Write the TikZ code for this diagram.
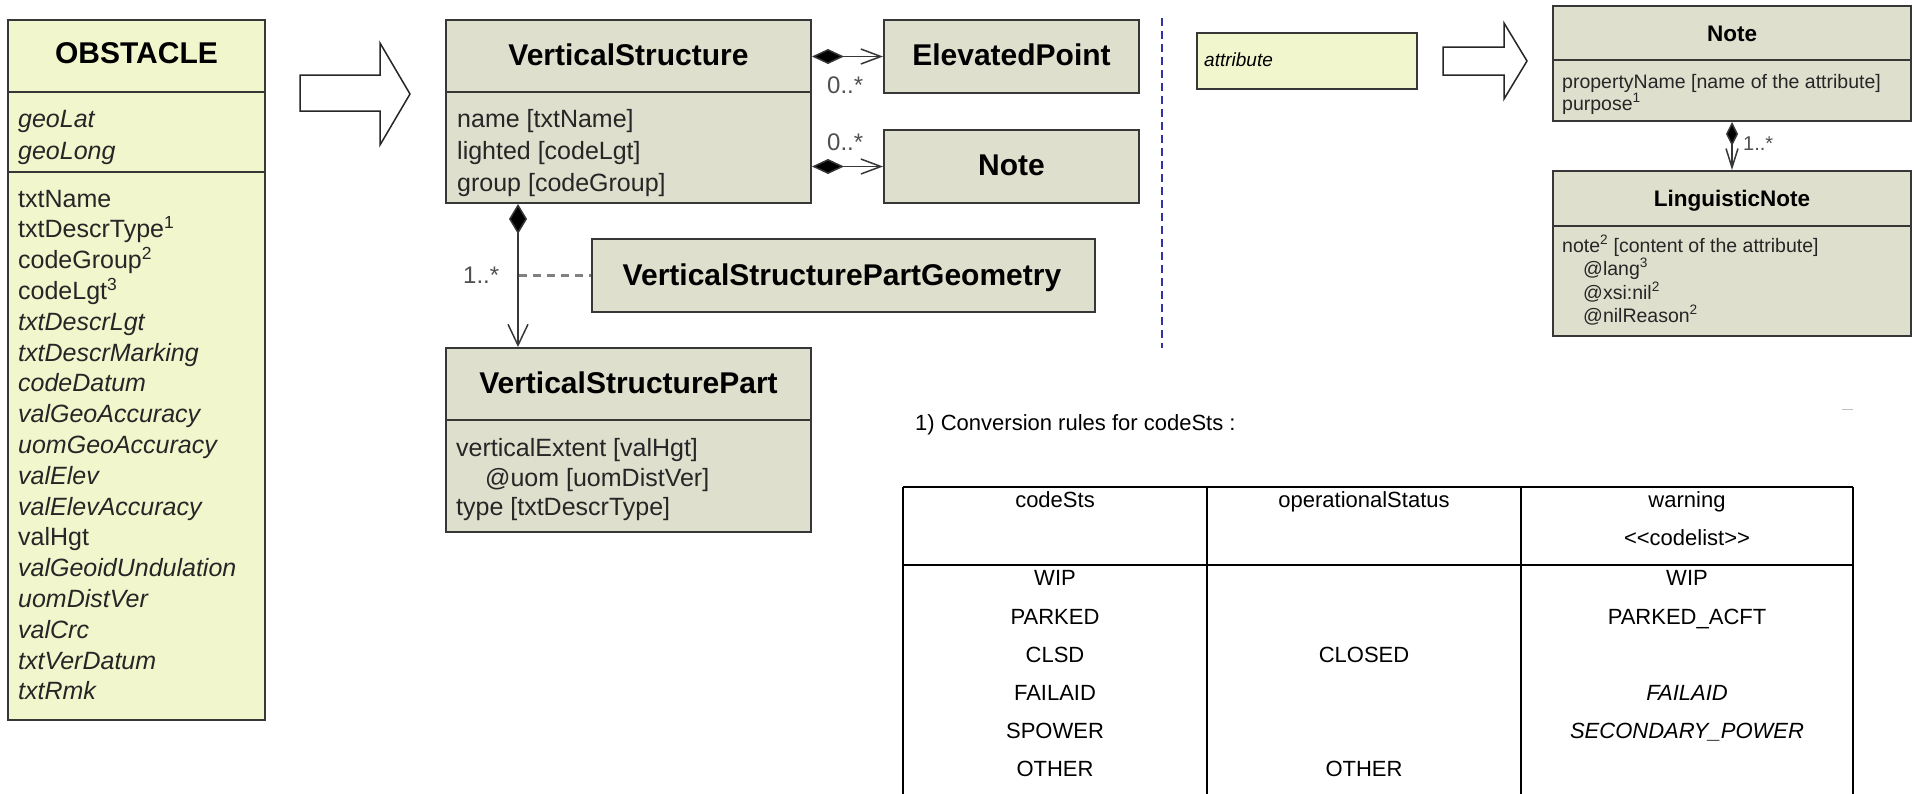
\documentclass[tikz,border=0pt]{standalone}
\usepackage{fontspec}
\setmainfont{Liberation Sans}
\usetikzlibrary{arrows.meta}
\definecolor{umlfill}{RGB}{222,223,205}
\definecolor{yelfill}{RGB}{241,246,205}
\definecolor{bordc}{RGB}{55,55,55}
\definecolor{labc}{RGB}{80,80,80}
\definecolor{dashc}{RGB}{50,50,170}
\definecolor{dashg}{RGB}{128,128,128}
\tikzset{
  box/.style={draw=bordc, line width=2pt, fill=umlfill, inner sep=0pt},
  ybox/.style={box, fill=yelfill},
  sepl/.style={draw=bordc, line width=2pt},
  t30/.style={font={\fontsize{30}{36}\selectfont\bfseries}, anchor=base, yshift=-10.7pt, inner sep=0pt},
  t22/.style={font={\fontsize{22.5}{27}\selectfont\bfseries}, anchor=base, yshift=-8pt, inner sep=0pt},
  a25/.style={font={\fontsize{25}{30}\selectfont}, anchor=base west, yshift=-9pt, inner sep=0pt, text=black!85},
  a19/.style={font={\fontsize{19.5}{23}\selectfont}, anchor=base west, yshift=-7pt, inner sep=0pt, text=black!85},
  lab/.style={font={\fontsize{24}{28}\selectfont}, anchor=base west, yshift=-8.6pt, inner sep=0pt, text=labc},
  lab20/.style={font={\fontsize{20}{24}\selectfont}, anchor=base west, yshift=-7.2pt, inner sep=0pt, text=labc},
  tb/.style={font={\fontsize{22}{26}\selectfont}, anchor=base, yshift=-7.9pt, inner sep=0pt},
  capt/.style={font={\fontsize{22}{26}\selectfont}, anchor=base west, yshift=-7.9pt, inner sep=0pt},
  blockarrow/.style={draw=black!85, line width=1.5pt, fill=white, line join=miter},
  compA/.style={draw=bordc, line width=1.5pt, arrows={Diamond[length=32pt,width=15pt,fill=black]-Straight Barb[length=20pt,width=15pt]}},
  compB/.style={draw=bordc, line width=1.5pt, arrows={Diamond[length=30pt,width=18pt,fill=black]-Straight Barb[length=21pt,width=20pt]}},
  compC/.style={draw=bordc, line width=1.5pt, arrows={Diamond[length=24pt,width=12pt,fill=black]-Straight Barb[length=19pt,width=12pt]}},
  assocdash/.style={draw=dashg, line width=2.5pt, dash pattern=on 8pt off 6pt},
  tline/.style={draw=black, line width=1.5pt}
}
\begin{document}
\begin{tikzpicture}[x=1pt,y=-1pt]
\useasboundingbox (0,0) rectangle (1915,793);
\fill[white] (0,0) rectangle (1915,793);

% ---------- OBSTACLE ----------
\node[ybox, minimum width=257pt, minimum height=700pt] (ob) at (136.5,370) {};
\draw[sepl] ([yshift=-73pt]ob.north west) -- ([yshift=-73pt]ob.north east);
\draw[sepl] ([yshift=-153pt]ob.north west) -- ([yshift=-153pt]ob.north east);
\node[t30] (obt) at (136.5,53) {OBSTACLE};
\node[a25] (og1) at (18,118) {\itshape geoLat};
\node[a25] (og2) at (18,150) {\itshape geoLong};
\foreach \t [count=\i] in {txtName, txtDescrType\textsuperscript{1}, codeGroup\textsuperscript{2}, codeLgt\textsuperscript{3},
  {\itshape txtDescrLgt}, {\itshape txtDescrMarking}, {\itshape codeDatum}, {\itshape valGeoAccuracy},
  {\itshape uomGeoAccuracy}, {\itshape valElev}, {\itshape valElevAccuracy}, valHgt,
  {\itshape valGeoidUndulation}, {\itshape uomDistVer}, {\itshape valCrc}, {\itshape txtVerDatum}, {\itshape txtRmk}}
  \node[a25] (oa\i) at (18,{198+(\i-1)*30.8}) {\t};

% ---------- block arrow 1 ----------
\draw[blockarrow] (300,75) -- (380,75) -- (380,43) -- (410,94) -- (380,145) -- (380,111) -- (300,111) -- cycle;

% ---------- VerticalStructure ----------
\node[box, minimum width=365pt, minimum height=183pt] (vs) at (628.5,111.5) {};
\draw[sepl] ([yshift=-73pt]vs.north west) -- ([yshift=-73pt]vs.north east);
\node[t30] (vst) at (628.5,55) {VerticalStructure};
\node[a25] (vs1) at (457,118) {name [txtName]};
\node[a25] (vs2) at (457,150) {lighted [codeLgt]};
\node[a25] (vs3) at (457,182) {group [codeGroup]};

% ---------- ElevatedPoint & Note ----------
\node[box, minimum width=255pt, minimum height=73pt] (ep) at (1011.5,56.5) {};
\node[t30] (ept) at (1011.5,55) {ElevatedPoint};
\node[box, minimum width=255pt, minimum height=73pt] (nt) at (1011.5,166.5) {};
\node[t30] (ntt) at (1011.5,165) {Note};
\draw[compA] (vs.east |- ep.west) -- (ep.west);
\draw[compA] (vs.east |- nt.west) -- (nt.west);
\node[lab] (m1) at (827,85) {0..*};
\node[lab] (m2) at (827,142) {0..*};

% ---------- VerticalStructurePartGeometry ----------
\node[box, minimum width=503pt, minimum height=73pt] (vspg) at (843.5,275.5) {};
\node[t30] (vspgt) at (842,275) {VerticalStructurePartGeometry};

% ---------- VerticalStructurePart ----------
\node[box, minimum width=365pt, minimum height=184pt] (vsp) at (628.5,440) {};
\draw[sepl] ([yshift=-73pt]vsp.north west) -- ([yshift=-73pt]vsp.north east);
\node[t30] (vspt) at (628.5,383) {VerticalStructurePart};
\node[a25] (vp1) at (456,447) {verticalExtent [valHgt]};
\node[a25] (vp2) at (485,477) {@uom [uomDistVer]};
\node[a25] (vp3) at (456,506) {type [txtDescrType]};

\draw[compB] ([xshift=73pt]vs.south west) -- ([xshift=73pt]vsp.north west);
\coordinate (jn) at (519,275.5);
\draw[assocdash] (jn) -- (vspg.west);
\node[lab] (m3) at (463,275) {1..*};

% ---------- separator ----------
\draw[dashc, line width=1.5pt, dash pattern=on 8pt off 5pt] (1162,18) -- (1162,348);

% ---------- attribute ----------
\node[ybox, minimum width=220pt, minimum height=56pt] (attr) at (1307,61) {};
\node[font={\fontsize{19}{23}\selectfont\itshape}, anchor=base west, yshift=-6.8pt, inner sep=0pt] (attrt) at (1204,60) {attribute};

% ---------- block arrow 2 ----------
\draw[blockarrow] (1443,47) -- (1504,47) -- (1504,23) -- (1527,61) -- (1504,99) -- (1504,75) -- (1443,75) -- cycle;

% ---------- Note (right) ----------
\node[box, minimum width=358pt, minimum height=115pt] (n2) at (1732,63.5) {};
\draw[sepl] ([yshift=-55pt]n2.north west) -- ([yshift=-55pt]n2.north east);
\node[t22] (n2t) at (1732,33) {Note};
\node[a19] (n2a) at (1562,81) {propertyName [name of the attribute]};
\node[a19] (n2b) at (1562,103) {purpose\textsuperscript{1}};

% ---------- LinguisticNote ----------
\node[box, minimum width=358pt, minimum height=165pt] (ln) at (1732,253.5) {};
\draw[sepl] ([yshift=-56pt]ln.north west) -- ([yshift=-56pt]ln.north east);
\node[t22] (lnt) at (1732,198) {LinguisticNote};
\node[a19] (ln1) at (1562,245) {note\textsuperscript{2} [content of the attribute]};
\node[a19] (ln2) at (1583,268) {@lang\textsuperscript{3}};
\node[a19] (ln3) at (1583,292) {@xsi:nil\textsuperscript{2}};
\node[a19] (ln4) at (1583,315) {@nilReason\textsuperscript{2}};
\draw[compC] (n2.south) -- (ln.north);
\node[lab20] (m4) at (1743,143) {1..*};

% ---------- conversion table ----------
\node[capt] (cap) at (915,423) {1) Conversion rules for codeSts :};
\draw[gray!50, line width=1pt] (1842,409) -- (1853,409);
\draw[tline] (903,487) -- (1853,487);
\draw[tline] (903,565) -- (1853,565);
\foreach \xx in {903,1207,1521,1853} \draw[tline] (\xx,487) -- (\xx,794);
\node[tb] (h1) at (1055,500) {codeSts};
\node[tb] (h2) at (1364,500) {operationalStatus};
\node[tb] (h3) at (1687,500) {warning};
\node[tb] (h4) at (1687,538) {<{}<codelist>{}>};
\foreach \t [count=\i] in {WIP, PARKED, CLSD, FAILAID, SPOWER, OTHER}
  \node[tb] (c\i) at (1055,{578+(\i-1)*38.2}) {\t};
\node[tb] (s1) at (1364,655) {CLOSED};
\node[tb] (s2) at (1364,769) {OTHER};
\node[tb] (w1) at (1687,578) {WIP};
\node[tb] (w2) at (1687,617) {PARKED\_ACFT};
\node[tb] (w3) at (1687,693) {\itshape FAILAID};
\node[tb] (w4) at (1687,731) {\itshape SECONDARY\_POWER};
\end{tikzpicture}
\end{document}
